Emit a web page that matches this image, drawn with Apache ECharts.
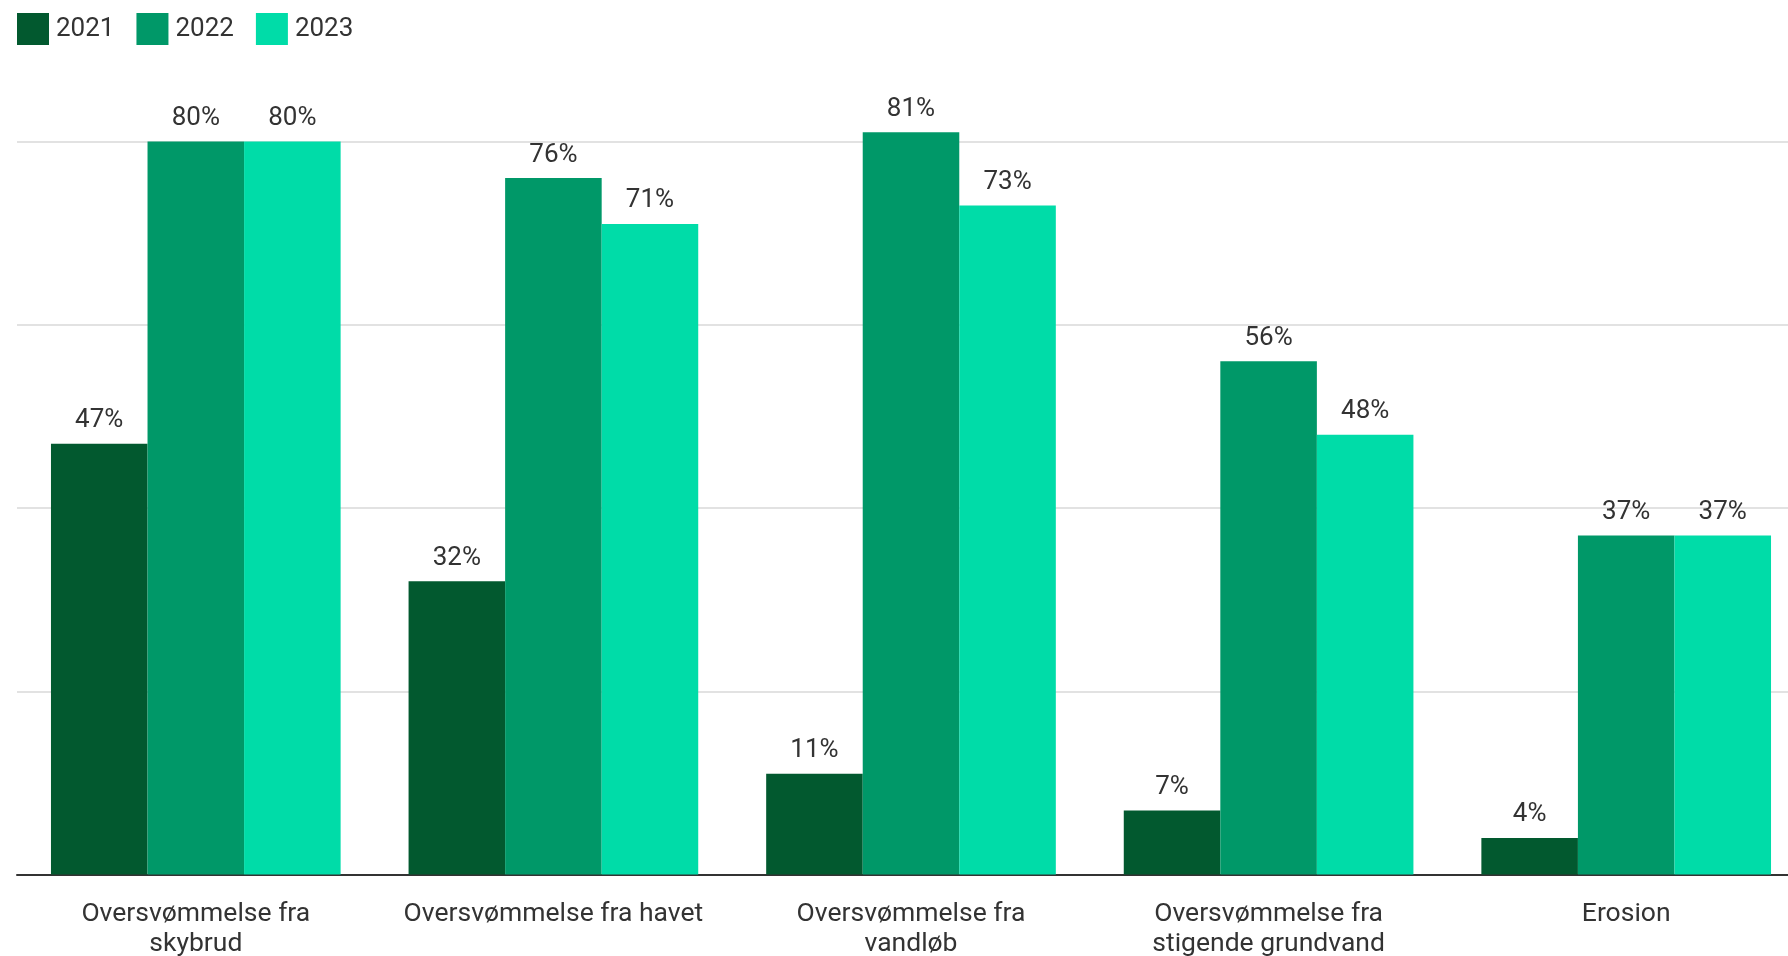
<!DOCTYPE html>
<html><head><meta charset="utf-8">
<script src="https://cdn.jsdelivr.net/npm/echarts@6/dist/echarts.min.js"></script>
<style>html,body{margin:0;padding:0;background:#fff}#c{width:1788px;height:956px}</style>
</head><body><div id="c"></div>
<script>
const categories = ["Oversvømmelse fra\nskybrud", "Oversvømmelse fra havet", "Oversvømmelse fra\nvandløb", "Oversvømmelse fra\nstigende grundvand", "Erosion"];
const seriesNames = ["2021", "2022", "2023"];
const v2021 = [47, 32, 11, 7, 4];
const v2022 = [80, 76, 81, 56, 37];
const v2023 = [80, 71, 73, 48, 37];
const colors = ["#02592f", "#009868", "#00dca8"];
const values = [v2021, v2022, v2023];
const font = "Roboto";
const chart = echarts.init(document.getElementById('c'));
chart.setOption({
  animation: false,
  textStyle: {fontFamily: font},
  legend: {
    left: 12, top: 8, itemWidth: 32, itemHeight: 32, itemGap: 22,
    icon: 'rect',
    textStyle: {fontSize: 26, color: '#333', fontFamily: font, padding: [0,0,0,2]},
    data: seriesNames
  },
  grid: {left: 17, right: -17, top: -41.9, bottom: 81.4, containLabel: false, outerBoundsMode: 'none'},
  xAxis: {
    type: 'category', data: categories,
    axisLine: {lineStyle: {color: '#333', width: 2}},
    axisTick: {alignWithLabel: true, length: 10, lineStyle: {color: '#333', width: 2}},
    axisLabel: {fontSize: 26.5, color: '#333', fontFamily: font, margin: 25, lineHeight: 30, interval: 0}
  },
  yAxis: {
    type: 'value', min: 0, max: 100, interval: 20,
    axisLabel: {show: false}, axisLine: {show: false}, axisTick: {show: false},
    splitLine: {lineStyle: {color: '#e2e2e2', width: 2}}
  },
  series: seriesNames.map((n, i) => ({
    name: n, type: 'bar', data: values[i],
    barGap: '0%', barCategoryGap: '19%',
    itemStyle: {color: colors[i]},
    label: {show: true, position: 'top', distance: 10, formatter: '{c}%', fontSize: 26, color: '#333', fontFamily: font}
  }))
});
</script></body></html>
